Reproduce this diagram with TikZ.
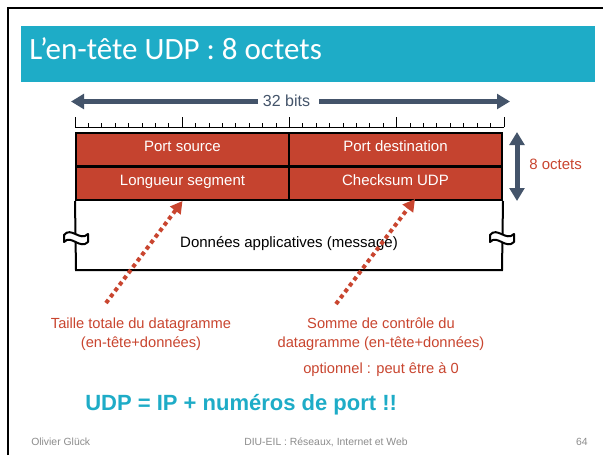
\documentclass[tikz,border=0pt]{standalone}
\usepackage{fontspec}
\setmainfont{Liberation Sans}
\newfontfamily\titlefont{Carlito}
\usetikzlibrary{arrows.meta}
\definecolor{bannerteal}{HTML}{1EACC7}
\definecolor{fieldred}{HTML}{C5432F}
\definecolor{notered}{HTML}{C9452F}
\definecolor{slate}{HTML}{44546A}
\definecolor{footgray}{HTML}{8C8C8C}
\begin{document}
\begin{tikzpicture}[x=0.75pt,y=-0.75pt,
  field/.style={draw=black, line width=1.5pt, fill=fieldred, text=white,
    minimum width=159.75pt, minimum height=25.1pt, inner sep=0pt,
    text height=6pt, text depth=3pt, font=\fontsize{11.25}{13}\selectfont},
  plain/.style={inner sep=0pt, font=\fontsize{11.25}{13}\selectfont},
  notetext/.style={inner sep=0pt, text=notered, font=\fontsize{11}{13}\selectfont},
  foot/.style={inner sep=0pt, text=footgray, font=\fontsize{7.8}{9}\selectfont},
  frame/.style={draw=black, line width=1.5pt},
  slatearrow/.style={draw=slate, line width=3.75pt, -{Triangle[length=9.75pt,width=11pt]}},
  slatedouble/.style={draw=slate, line width=3.75pt, {Triangle[length=9.75pt,width=11pt]}-{Triangle[length=9.75pt,width=11pt]}},
  dotarrow/.style={draw=notered, line width=3pt, dash pattern=on 3pt off 2.6pt,
    -{Triangle[length=9pt,width=9.5pt]}},
  breakmark/.pic={
    \draw[fill=white, line width=1.5pt, line join=round]
      (-12,-3) .. controls (-5,-12) and (4,4) .. (12,-4) -- (12,4)
      .. controls (4,12) and (-5,-4) .. (-12,4) -- cycle;
  }]
\useasboundingbox (0,0) rectangle (603,455);
\fill[white] (0,0) rectangle (603,455);

% slide frame
\draw[line width=2pt] (8,455) -- (8,8) -- (603,8);

% title banner
\node[fill=bannerteal, minimum width=430.5pt, minimum height=42pt, inner sep=0pt,
  anchor=north west] (banner) at (21,26) {};
\node[inner sep=0pt, anchor=base west, text=white,
  font=\titlefont\fontsize{23.25}{28}\selectfont] (title) at (29,59) {L’en-tête UDP : 8 octets};

% width of the header: 32 bits
\node[inner sep=0pt, anchor=base, text=slate, font=\fontsize{12}{14}\selectfont] (bits) at (286.5,106.5) {32 bits};
\coordinate (bitsL) at (258,101.5);
\coordinate (bitsR) at (319,101.5);
\coordinate (endL) at (71,101.5);
\coordinate (endR) at (510,101.5);
\draw[slatearrow] (bitsL) -- (endL);
\draw[slatearrow] (bitsR) -- (endR);

% bit ruler
\draw[line width=0.75pt] (75,127) -- (504,127);
\foreach \i in {0,...,32}{
  \pgfmathsetmacro{\tx}{75+\i*13.40625}
  \pgfmathsetmacro{\tl}{ifthenelse(mod(\i,8)==0,10,4)}
  \draw[line width=0.75pt] (\tx,127) -- (\tx,127-\tl);
}

% header fields
\node[field] (psrc) at (182.5,149.75) {Port source};
\node[field] (pdst) at (395.5,149.75) {Port destination};
\node[field] (plen) at (182.5,183.25) {Longueur segment};
\node[field] (pck)  at (395.5,183.25) {Checksum UDP};

% payload area
\coordinate (dataBL) at (76,270);
\coordinate (dataBR) at (502,270);
\draw[frame] (plen.south west) -- (dataBL) -- (dataBR) -- (pck.south east);
\node[plain, anchor=base] (payload) at (289,247) {Données applicatives (message)};
\pic at (76,238) {breakmark};
\pic at (502,238) {breakmark};

% header size
\coordinate (sizeTop) at (517,132);
\coordinate (sizeBot) at (517,201);
\draw[slatedouble] (sizeTop) -- (sizeBot);
\node[plain, text=notered, anchor=base west] (eight) at (529,169.5) {8 octets};

% notes
\node[notetext, anchor=base] (lenA) at (141,328) {Taille totale du datagramme};
\node[notetext, anchor=base] (lenB) at (141,347) {(en-tête+données)};
\node[notetext, anchor=base] (ckA) at (381,328) {Somme de contrôle du};
\node[notetext, anchor=base] (ckB) at (381,347) {datagramme (en-tête+données)};
\node[notetext, anchor=base] (ckC) at (381,373) {optionnel : peut être à 0};

\coordinate (lenFoot) at (106,303);
\coordinate (ckFoot) at (336,304);
\coordinate (ckTip) at (415,199);
\draw[dotarrow] (lenFoot) -- (plen.south);
\draw[dotarrow] (ckFoot) -- (ckTip);

% summary
\node[inner sep=0pt, anchor=base west, text=bannerteal,
  font=\bfseries\fontsize{16.5}{20}\selectfont] (motto) at (85,410) {UDP = IP + numéros de port !!};

% footer
\node[foot, anchor=base west] (author) at (31,445) {Olivier Glück};
\node[foot, anchor=base] (course) at (326,445) {DIU-EIL : Réseaux, Internet et Web};
\node[foot, anchor=base east] (page) at (588,445) {64};
\end{tikzpicture}
\end{document}
